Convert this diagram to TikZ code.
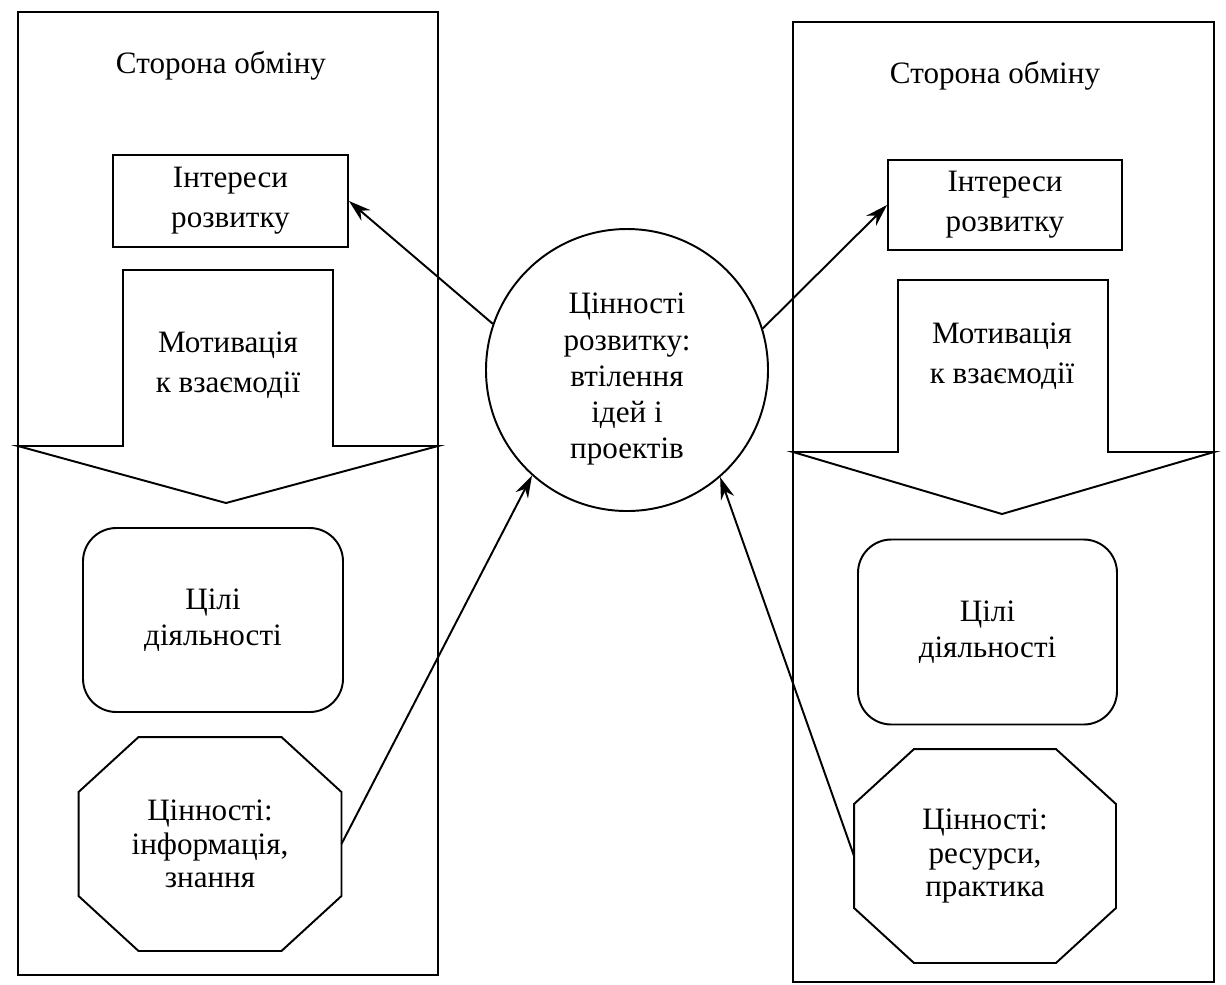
\documentclass[tikz,border=0pt]{standalone}
\usepackage{fontspec}
\setmainfont{Liberation Serif}
\usetikzlibrary{arrows.meta}
\newcommand{\px}{0.36pt}
\newcommand{\octagon}[1]{\draw([xshift=60*\px]#1.north west)--([xshift=-60*\px]#1.north east)--([yshift=-55*\px]#1.north east)--([yshift=55*\px]#1.south east)--([xshift=-60*\px]#1.south east)--([xshift=60*\px]#1.south west)--([yshift=55*\px]#1.south west)--([yshift=-55*\px]#1.north west)--cycle;}
\begin{document}
\begin{tikzpicture}[x=\px,y=-\px,line width=0.7pt,>={Stealth[length=8pt,width=5pt]},
	txt/.style={align=center,font=\fontsize{11.2}{14.5}\selectfont},
	box/.style={draw,txt,inner sep=0pt},
	goal/.style={box,rounded corners=12pt,font=\fontsize{11.2}{13}\selectfont},
	val/.style={txt,inner sep=0pt,font=\fontsize{11.2}{12}\selectfont}]
	\useasboundingbox(0,0)rectangle(1226,984);
	\draw(18,12)rectangle(438,975);
	\node[txt](sideL)at(221,66){Сторона обміну};
	\node[box,minimum width=235*\px,minimum height=92*\px](intL)at(230.5,201){Інтереси\\розвитку};
	\draw(123,270)--(333,270)--(333,446)--(438,446)--(226,503)--(18,446)--(123,446)--cycle;
	\node[txt](motL)at(228,365){Мотивація\\к взаємодії};
	\node[goal,minimum width=260*\px,minimum height=184*\px](goalL)at(213,620){Цілі\\діяльності};
	\node[val,minimum width=261*\px,minimum height=212*\px](valL)at(210,844){Цінності:\\інформація,\\знання};
	\octagon{valL}
	\draw(793,22)rectangle(1214,982);
	\node[txt](sideR)at(995,76){Сторона обміну};
	\node[box,minimum width=234*\px,minimum height=90*\px](intR)at(1005,205){Інтереси\\розвитку};
	\draw(898,280)--(1108,280)--(1108,452)--(1214,452)--(1002,514)--(793,452)--(898,452)--cycle;
	\node[txt](motR)at(1002,356){Мотивація\\к взаємодії};
	\node[goal,minimum width=259*\px,minimum height=185*\px](goalR)at(987.5,632){Цілі\\діяльності};
	\node[val,minimum width=260*\px,minimum height=212*\px](valR)at(985,856){Цінності:\\ресурси,\\практика};
	\octagon{valR}
	\node[box,circle,minimum size=282*\px,font=\fontsize{11.2}{13}\selectfont](dev)at(627,370){\rule{0pt}{14pt}Цінності\\розвитку:\\втілення\\ідей і\\проектів};
	\draw[->](dev.161)--(intL.east);
	\draw[->](dev.17)--(intR.west);
	\draw[->](valL.east)--(dev.228);
	\draw[->](valR.west)--(dev.311);
\end{tikzpicture}
\end{document}
